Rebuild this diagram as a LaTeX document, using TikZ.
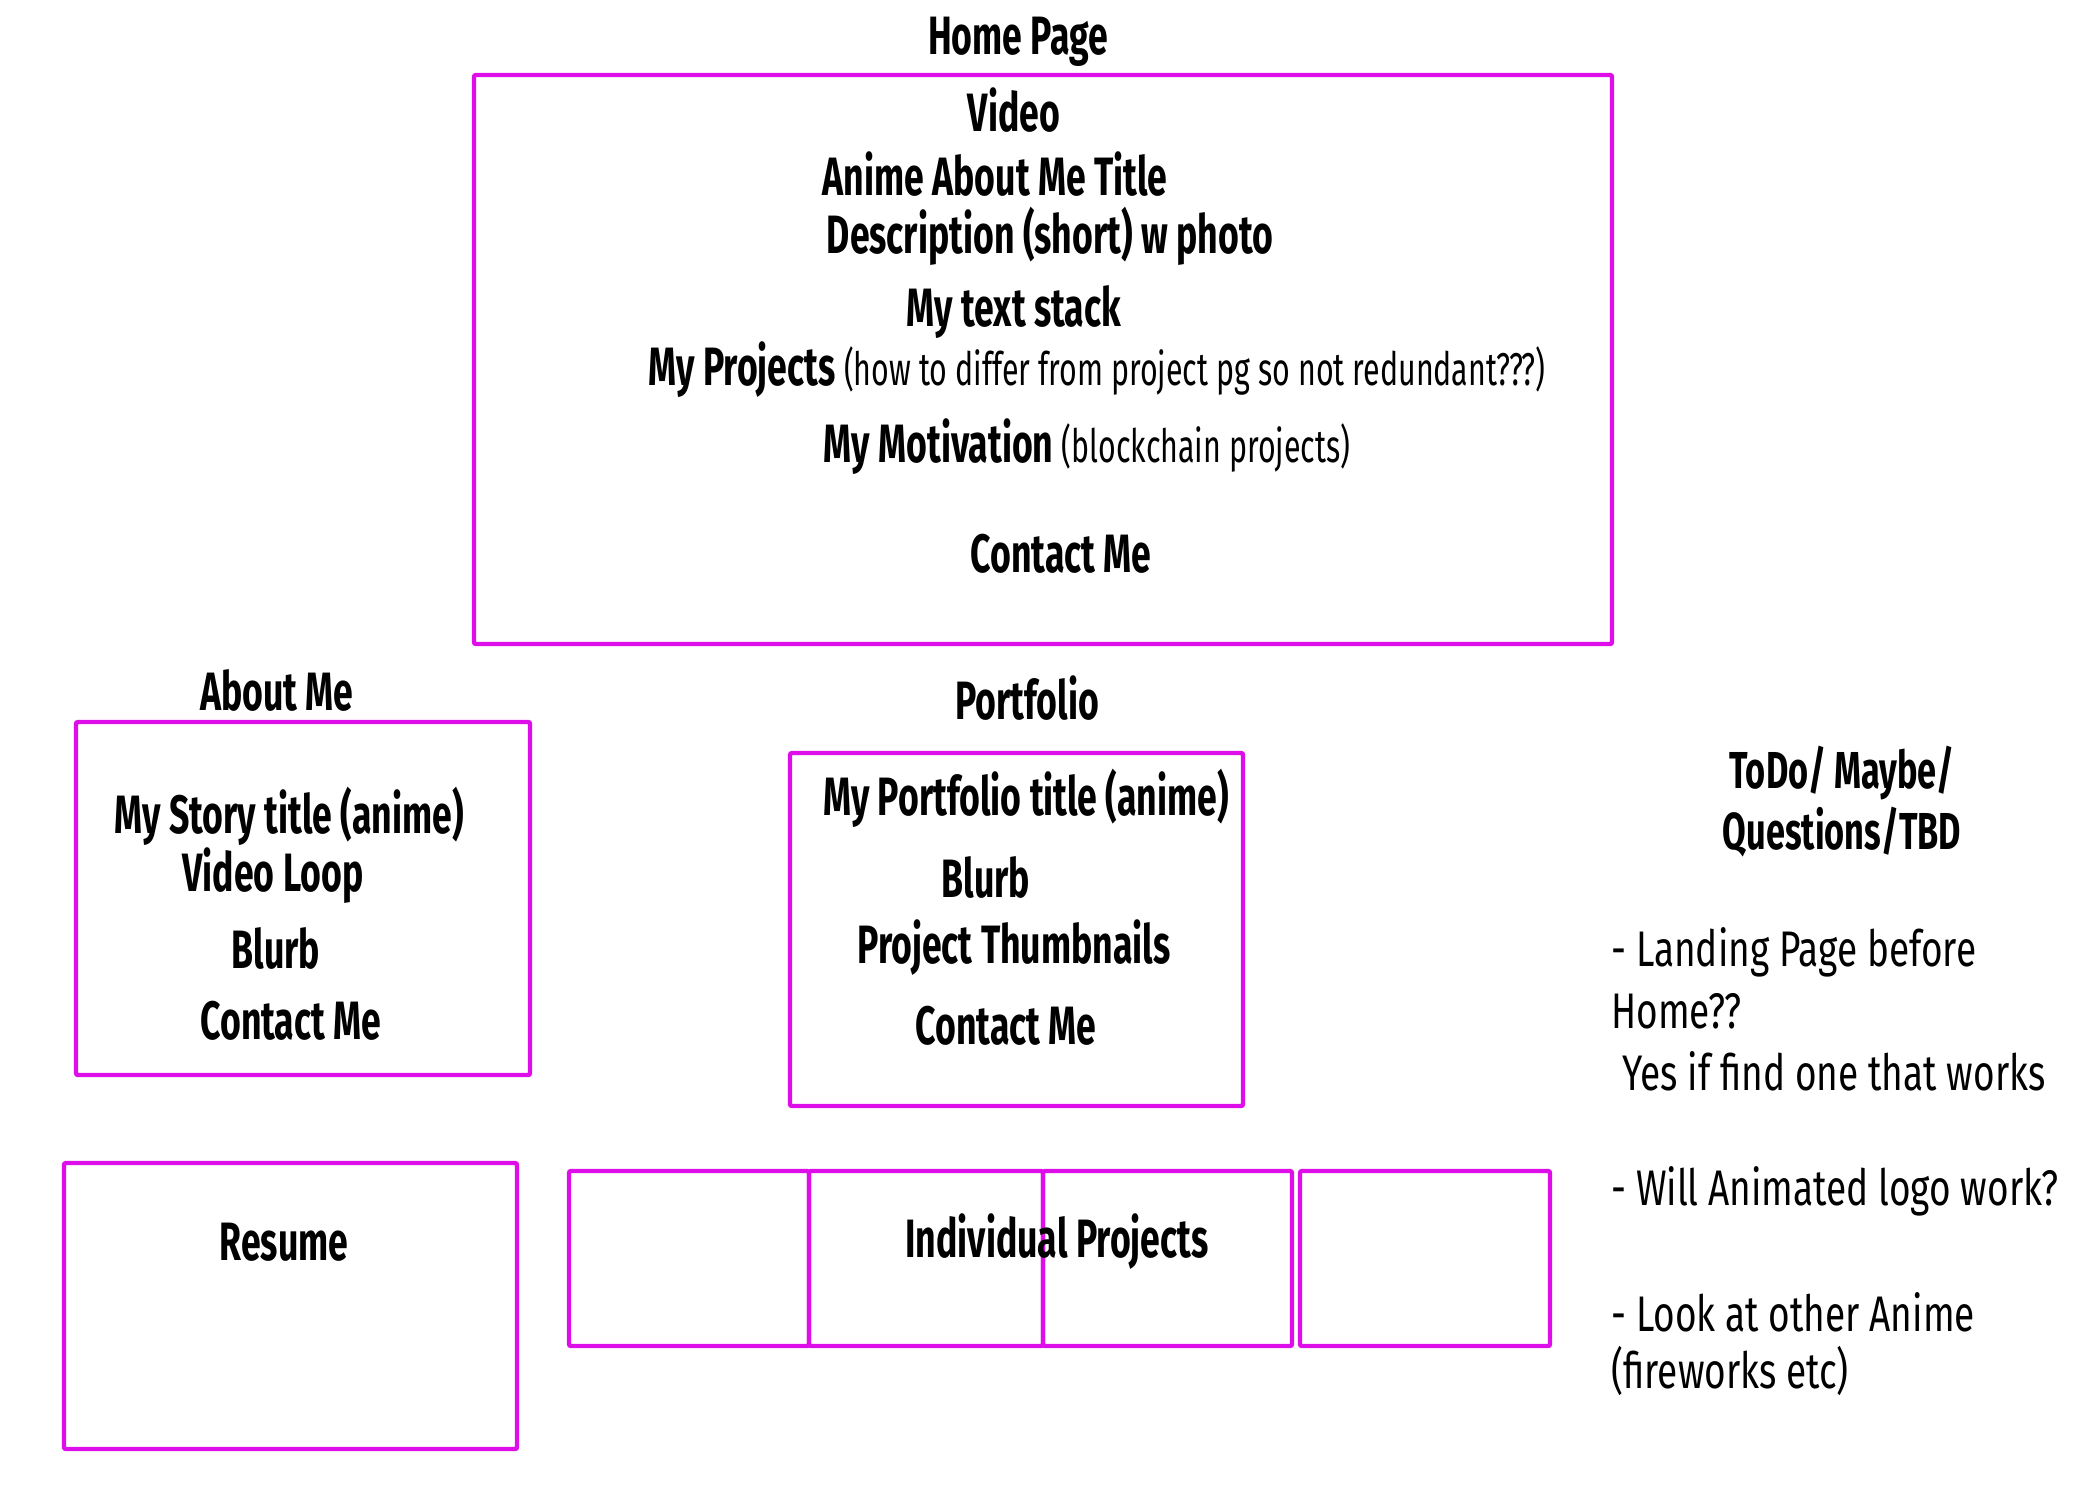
\documentclass[tikz,border=0pt]{standalone}
\usepackage{fontspec}
\setmainfont{Fira Sans}[FakeStretch=0.66]
\newfontfamily\todofont{Fira Sans}[FakeStretch=0.74]
\newfontfamily\todoheadfont{Fira Sans}[FakeStretch=0.66]
\usetikzlibrary{fit}
\definecolor{mag}{RGB}{222,14,234}
\tikzset{
  box/.style={draw=mag, line width=2.2pt, rounded corners=1pt, inner sep=0pt},
  lbl/.style={font=\fontsize{27}{32}\selectfont\bfseries, inner sep=0pt},
  todo/.style={font=\todofont\fontsize{25}{30}\selectfont, inner sep=0pt, anchor=west},
  todohead/.style={font=\todoheadfont\fontsize{26}{30}\selectfont\bfseries, inner sep=0pt},
}
\newcommand{\smalltxt}[1]{{\mdseries\fontsize{23}{28}\selectfont #1}}
\begin{document}
\begin{tikzpicture}[x=0.5pt,y=-0.5pt]
\useasboundingbox (0,0) rectangle (2100,1500);
% Home page
\node[lbl] (hometitle) at (1018,42) {Home Page};
\node[box, fit={(474,75) (1612,644)}] (home) {};
\node[lbl] (video) at (1014,110) {Video};
\node[lbl] (anime) at (995,174) {Anime About Me Title};
\node[lbl] (desc) at (1050,236) {Description (short) w photo};
\node[lbl] (stack) at (1014,312) {My text stack};
\node[lbl] (projects) at (1097,370) {My Projects \smalltxt{(how to differ from project pg so not redundant???)}};
\node[lbl] (motiv) at (1087,447) {My Motivation \smalltxt{(blockchain projects)}};
\node[lbl] (homecontact) at (1061,554) {Contact Me};
% About me
\node[lbl] (abouttitle) at (277,690) {About Me};
\node[box, fit={(76,722) (530,1075)}] (about) {};
\node[lbl] (story) at (289,816) {My Story title (anime)};
\node[lbl] (loop) at (273,876) {Video Loop};
\node[lbl] (aboutblurb) at (276,948) {Blurb};
\node[lbl] (aboutcontact) at (291,1021) {Contact Me};
% Portfolio
\node[lbl] (portitle) at (1027,698) {Portfolio};
\node[box, fit={(790,753) (1243,1106)}] (portfolio) {};
\node[lbl] (porttitle2) at (1026,798) {My Portfolio title (anime)};
\node[lbl] (portblurb) at (986,877) {Blurb};
\node[lbl] (thumbs) at (1014,948) {Project Thumbnails};
\node[lbl] (portcontact) at (1006,1026) {Contact Me};
% Resume
\node[box, fit={(64,1163) (517,1449)}] (resume) {};
\node[lbl] (resumetxt) at (284,1242) {Resume};
% Individual projects
\node[box, fit={(569,1171) (809,1346)}] (proj1) {};
\node[box, fit={(809,1171) (1043,1346)}] (proj2) {};
\node[box, fit={(1043,1171) (1292,1346)}] (proj3) {};
\node[box, fit={(1300,1171) (1550,1346)}] (proj4) {};
\node[lbl] (indiv) at (1057,1242) {Individual Projects};
% ToDo
\node[todohead] (todo1) at (1842,773) {ToDo/ Maybe/};
\node[todohead] (todo2) at (1842,832) {Questions/TBD};
\node[todo] (t1) at (1611,952) {- Landing Page before};
\node[todo] (t2) at (1611,1011) {Home??};
\node[todo] (t3) at (1622,1071) {Yes if find one that works};
\node[todo] (t4) at (1611,1191) {- Will Animated logo work?};
\node[todo] (t5) at (1611,1312) {- Look at other Anime};
\node[todo] (t6) at (1611,1371) {(fireworks etc)};
\end{tikzpicture}
\end{document}
